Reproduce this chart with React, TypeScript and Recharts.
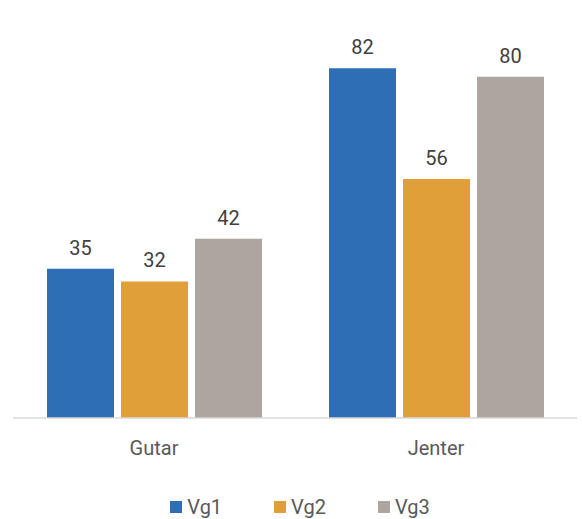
import { BarChart, Bar, XAxis, YAxis, Legend, LabelList } from 'recharts';

const groups = ['Gutar', 'Jenter'];
const vg1 = [35, 82];
const vg2 = [32, 56];
const vg3 = [42, 80];

const seriesNames = ['Vg1', 'Vg2', 'Vg3'];
const colors = ['#2E6EB5', '#E09F38', '#ADA59F'];

const data = groups.map((g, i) => ({ group: g, Vg1: vg1[i], Vg2: vg2[i], Vg3: vg3[i] }));

const FONT = 'Roboto, "Noto Sans", sans-serif';

function LegendContent({ payload }: any) {
  return (
    <div
      style={{
        height: 40,
        boxSizing: 'border-box',
        paddingTop: 16,
        paddingLeft: 10,
        display: 'flex',
        justifyContent: 'center',
        alignItems: 'center',
        fontFamily: FONT,
        fontSize: 20,
        color: '#595959',
      }}
    >
      {(payload || []).map((p: any, i: number) => (
        <div key={p.value} style={{ display: 'flex', alignItems: 'center', marginLeft: i === 0 ? 0 : 52 }}>
          <span style={{ width: 12, height: 12, background: p.color, display: 'inline-block', marginRight: 5 }} />
          <span>{p.value}</span>
        </div>
      ))}
    </div>
  );
}

export default function App() {
  return (
    <div style={{ position: 'absolute', left: 0, top: 0, width: 582, height: 519, background: '#fff' }}>
      <BarChart
        width={582}
        height={519}
        data={data}
        margin={{ top: 34, right: 5, left: 13, bottom: 0 }}
        barSize={67}
        barGap={7}
      >
        <XAxis
          dataKey="group"
          height={61}
          tickLine={false}
          tickSize={0}
          tickMargin={23}
          axisLine={{ stroke: '#D9D9D9', strokeWidth: 1.5 }}
          tick={{ fill: '#595959', fontSize: 20, fontFamily: FONT }}
        />
        <YAxis hide domain={[0, 90]} />
        <Legend verticalAlign="bottom" height={40} content={<LegendContent />} />
        {seriesNames.map((name, i) => (
          <Bar key={name} dataKey={name} fill={colors[i]} isAnimationActive={false}>
            <LabelList
              dataKey={name}
              position="top"
              offset={14}
              style={{ fill: '#404040', fontSize: 20, fontFamily: FONT }}
            />
          </Bar>
        ))}
      </BarChart>
    </div>
  );
}
